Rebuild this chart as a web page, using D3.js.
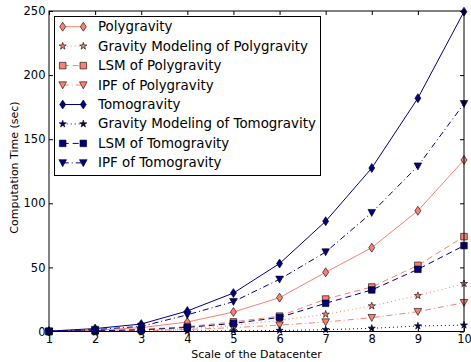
<!DOCTYPE html>
<html>
<head>
<meta charset="utf-8">
<script src="https://cdn.jsdelivr.net/npm/d3@7"></script>
<style>
  body { margin: 0; background: #fff; }
  text { font-family: "DejaVu Sans", sans-serif; fill: #000; }
</style>
</head>
<body>
<div class="chart"></div>
<script>

// Data
var scales = [1, 2, 3, 4, 5, 6, 7, 8, 9, 10];
var yTicks = [0, 50, 100, 150, 200, 250];

var polygravity   = [0.1, 1.0, 3.0, 7.4, 15.2, 26.4, 46.2, 65.4, 94.2, 133.8];
var gmPolygravity = [0, 0.3, 0.9, 2.2, 4.8, 8.7, 13.4, 19.9, 28.0, 37.3];
var lsmPolygravity = [0, 0.6, 1.6, 3.8, 7.5, 12.0, 25.3, 34.7, 51.6, 74.0];
var ipfPolygravity = [0, 0.2, 0.6, 1.6, 3.0, 5.0, 7.4, 10.8, 15.5, 22.5];
var tomogravity   = [0.3, 2.3, 5.8, 16.0, 30.0, 53.0, 86.0, 127.5, 182.0, 249.5];
var gmTomogravity = [0, 0.05, 0.1, 0.3, 0.5, 0.8, 1.4, 2.5, 4.3, 5.0];
var lsmTomogravity = [0, 0.5, 1.3, 3.2, 6.3, 11.0, 22.0, 32.4, 48.5, 67.0];
var ipfTomogravity = [0.2, 1.5, 4.0, 13.0, 23.3, 40.7, 62.0, 92.7, 129.0, 177.7];

var seriesNames = ["Polygravity", "Gravity Modeling of Polygravity", "LSM of Polygravity",
  "IPF of Polygravity", "Tomogravity", "Gravity Modeling of Tomogravity",
  "LSM of Tomogravity", "IPF of Tomogravity"];
var seriesValues = [polygravity, gmPolygravity, lsmPolygravity, ipfPolygravity,
  tomogravity, gmTomogravity, lsmTomogravity, ipfTomogravity];

// Styles per series
var salmon = "#fa8072";
var navy = "#000080";
var seriesColors = [salmon, salmon, salmon, salmon, navy, navy, navy, navy];
var seriesDash = [null, "1,3", "6,4", "6,3,1,3", null, "1,3", "6,4", "6,3,1,3"];
var seriesMarker = ["diamond", "star", "square", "tri", "diamond", "star", "square", "tri"];

var width = 471, height = 362;
var margin = {top: 11, right: 7, bottom: 30.5, left: 49};
var plotW = width - margin.left - margin.right;
var plotH = height - margin.top - margin.bottom;

var svg = d3.select(".chart")
  .append("svg")
  .attr("width", width)
  .attr("height", height);

var x = d3.scaleLinear().domain([1, 10]).range([margin.left, margin.left + plotW]);
var y = d3.scaleLinear().domain([0, 250]).range([margin.top + plotH, margin.top]);

// Marker shapes
function markerPath(kind) {
    if (kind === "diamond") return "M0,-4.5L3,0L0,4.5L-3,0Z";
    if (kind === "square") return "M-3.3,-3.3H3.3V3.3H-3.3Z";
    if (kind === "tri") return "M-3.8,-3.2L3.8,-3.2L0,3.8Z";
    return d3.symbol().type(d3.symbolStar).size(16)();
}

// Plot lines and markers
var line = d3.line()
  .x(function(d, i) { return x(scales[i]); })
  .y(function(d) { return y(d); });

var plot = svg.append("g");

seriesValues.forEach(function(vals, s) {
    plot.append("path")
      .datum(vals)
      .attr("d", line)
      .attr("fill", "none")
      .attr("stroke", seriesColors[s])
      .attr("stroke-width", 1)
      .attr("stroke-dasharray", seriesDash[s]);

    plot.selectAll(".m" + s)
      .data(vals)
      .enter()
      .append("path")
      .attr("class", "m" + s)
      .attr("transform", function(d, i) { return "translate(" + x(scales[i]) + "," + y(d) + ")"; })
      .attr("d", markerPath(seriesMarker[s]))
      .attr("fill", seriesColors[s])
      .attr("stroke", "#000")
      .attr("stroke-width", 0.6);
});

// Frame
svg.append("rect")
  .attr("x", margin.left)
  .attr("y", margin.top)
  .attr("width", plotW)
  .attr("height", plotH)
  .attr("fill", "none")
  .attr("stroke", "#000")
  .attr("stroke-width", 1);

// Axes with inward ticks
var tickLen = 4;
svg.append("g")
  .attr("transform", "translate(0," + (margin.top + plotH) + ")")
  .call(d3.axisBottom(x).tickValues(scales).tickSizeInner(-tickLen).tickSizeOuter(0).tickPadding(3.5))
  .call(function(g) { g.select(".domain").remove(); })
  .call(function(g) { g.selectAll("text").style("font-size", "11.5px").attr("font-family", null); });

svg.append("g")
  .attr("transform", "translate(0," + margin.top + ")")
  .call(d3.axisTop(x).tickValues(scales).tickSizeInner(-tickLen).tickSizeOuter(0).tickFormat(""))
  .call(function(g) { g.select(".domain").remove(); });

svg.append("g")
  .attr("transform", "translate(" + margin.left + ",0)")
  .call(d3.axisLeft(y).tickValues(yTicks).tickSizeInner(-tickLen).tickSizeOuter(0).tickPadding(3.5))
  .call(function(g) { g.select(".domain").remove(); })
  .call(function(g) { g.selectAll("text").style("font-size", "11.5px").attr("font-family", null); });

svg.append("g")
  .attr("transform", "translate(" + (margin.left + plotW) + ",0)")
  .call(d3.axisRight(y).tickValues(yTicks).tickSizeInner(-tickLen).tickSizeOuter(0).tickFormat(""))
  .call(function(g) { g.select(".domain").remove(); });

// Axis titles
svg.append("text")
  .attr("x", margin.left + plotW / 2)
  .attr("y", 358)
  .attr("text-anchor", "middle")
  .style("font-size", "11px")
  .text("Scale of the Datacenter");

svg.append("text")
  .attr("transform", "translate(17.5,167.5) rotate(-90)")
  .attr("text-anchor", "middle")
  .style("font-size", "11px")
  .text("Computation Time (sec)");

// Legend
var legend = svg.append("g");
legend.append("rect")
  .attr("x", 54.5)
  .attr("y", 16.5)
  .attr("width", 266)
  .attr("height", 159)
  .attr("fill", "#fff")
  .attr("stroke", "#000")
  .attr("stroke-width", 1);

seriesNames.forEach(function(name, s) {
    var ly = 26.7 + s * 19.45;
    var row = legend.append("g");
    row.append("line")
      .attr("x1", 62.7).attr("x2", 83.3)
      .attr("y1", ly).attr("y2", ly)
      .attr("stroke", seriesColors[s])
      .attr("stroke-width", 1)
      .attr("stroke-dasharray", seriesDash[s]);
    [62.7, 83.3].forEach(function(mx) {
        row.append("path")
          .attr("transform", "translate(" + mx + "," + ly + ")")
          .attr("d", markerPath(seriesMarker[s]))
          .attr("fill", seriesColors[s])
          .attr("stroke", "#000")
          .attr("stroke-width", 0.6);
    });
    row.append("text")
      .attr("x", 98)
      .attr("y", ly)
      .attr("dominant-baseline", "central")
      .style("font-size", "13.4px")
      .text(name);
});

</script>
</body>
</html>
